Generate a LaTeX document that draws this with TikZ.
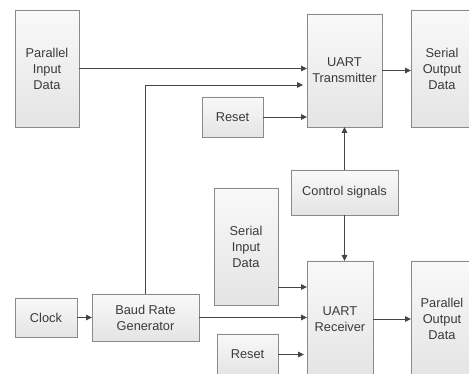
\documentclass[tikz,border=0pt]{standalone}
\usepackage{fontspec}
\setmainfont{Liberation Sans}
\usetikzlibrary{arrows.meta,shadows,calc}
\definecolor{boxline}{HTML}{8A8A8A}
\definecolor{linec}{HTML}{454545}
\definecolor{txtc}{HTML}{3A3A3A}
\definecolor{topc}{HTML}{F9F9F9}
\definecolor{botc}{HTML}{E4E4E4}
\tikzset{
  blk/.style={draw=boxline, line width=0.9pt, top color=topc, bottom color=botc,
    text=txtc, align=center, inner sep=0pt, outer sep=0pt,
    font=\fontsize{12.8pt}{16pt}\selectfont,
    drop shadow={shadow xshift=1.2pt, shadow yshift=-1.2pt, fill=black, opacity=0.18}},
  conn/.style={draw=linec, line width=0.95pt, -{Triangle[length=6pt,width=5.5pt]}},
}
\begin{document}
\begin{tikzpicture}[x=1pt,y=-1pt]
\useasboundingbox (0,0) rectangle (469,374);
\clip (0,0) rectangle (469,374);
\node[blk, minimum width=64pt, minimum height=117pt] (pid) at (47,68.5) {Parallel\\Input\\Data};
\node[blk, minimum width=75pt, minimum height=113pt] (tx) at (344.5,70.5) {UART\\Transmitter};
\node[blk, minimum width=62pt, minimum height=117pt] (sod) at (442,68.5) {Serial\\Output\\Data};
\node[blk, minimum width=61pt, minimum height=40pt] (rst1) at (232.5,117) {Reset};
\node[blk, minimum width=107pt, minimum height=45pt] (ctl) at (344.5,192.5) {Control signals};
\node[blk, minimum width=64pt, minimum height=117pt] (sid) at (246,246.5) {Serial\\Input\\Data};
\node[blk, minimum width=66pt, minimum height=116pt] (rx) at (340,319) {UART\\Receiver};
\node[blk, minimum width=62pt, minimum height=116pt] (pod) at (442,319) {Parallel\\Output\\Data};
\node[blk, minimum width=62pt, minimum height=39pt] (clk) at (46,317.5) {Clock};
\node[blk, minimum width=107pt, minimum height=47pt] (brg) at (145.5,317.5) {Baud Rate\\Generator};
\node[blk, minimum width=61pt, minimum height=41pt] (rst2) at (247.5,354.5) {Reset};

\coordinate (txb) at ($(tx.west)+(0,14.5)$);
\coordinate (sidr) at ($(sid.south east)+(0,-18)$);

\draw[conn] (pid.east) -- (pid.east -| tx.west);
\draw[conn, shorten >=4pt] (brg.north) |- (txb);
\draw[conn] (rst1.east) -- (rst1.east -| tx.west);
\draw[conn] (tx.east) -- (tx.east -| sod.west);
\draw[conn] (ctl.north) -- (ctl.north |- tx.south);
\draw[conn] (ctl.south) -- (ctl.south |- rx.north);
\draw[conn] (sidr) -- (sidr -| rx.west);
\draw[conn] (brg.east) -- (brg.east -| rx.west);
\draw[conn, shorten >=3pt] (rst2.east) -- (rst2.east -| rx.west);
\draw[conn] (rx.east) -- (rx.east -| pod.west);
\draw[conn] (clk.east) -- (clk.east -| brg.west);
\end{tikzpicture}
\end{document}
